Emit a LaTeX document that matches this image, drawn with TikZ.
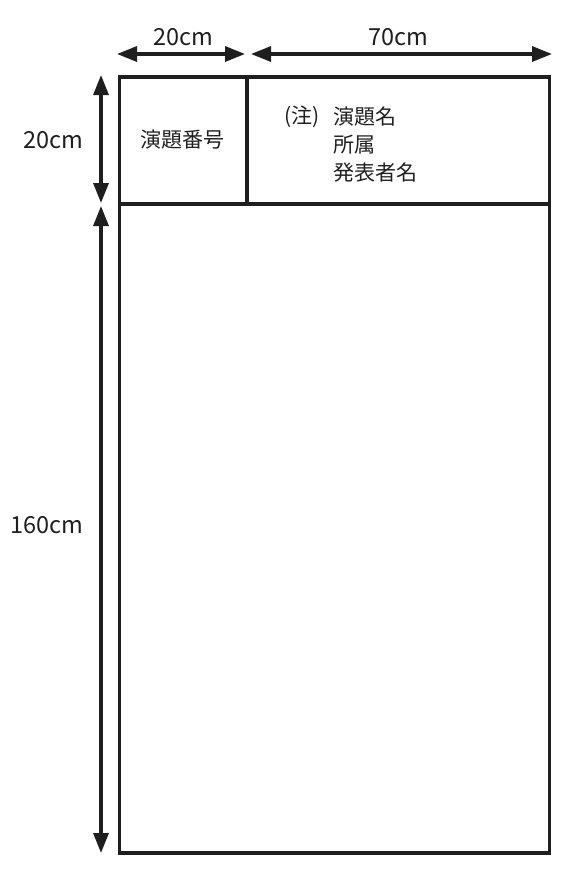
\documentclass[tikz,border=0pt]{standalone}
\usepackage{fontspec}
\setmainfont{Noto Sans CJK JP}
\usepackage{tikz}
\usetikzlibrary{arrows.meta,positioning}
\tikzset{
	dimarrow/.style={line width=3.2pt,color=black!88,{Triangle[length=20pt,width=15pt]}-{Triangle[length=20pt,width=15pt]}},
	frame/.style={line width=3.4pt,color=black!88},
	dimlabel/.style={font=\fontsize{23.5}{26}\selectfont,color=black!88,inner sep=0pt},
	jplabel/.style={font=\fontsize{21}{24}\selectfont,color=black!88,inner sep=0pt}
}

\begin{document}
\begin{tikzpicture}[x=1pt,y=-1pt]
		\useasboundingbox (0,0) rectangle (574,886);
		\coordinate (tl) at (119.5,77);
		\coordinate (tr) at (549.5,77);
		\coordinate (bl) at (119.5,853);
		\coordinate (br) at (549.5,853);
		\coordinate (hl) at (119.5,204);
		\coordinate (hr) at (549.5,204);
		\coordinate (dt) at (247,77);
		\coordinate (db) at (247,204);
		\draw[frame] (tl) rectangle (br);
		\draw[frame] (hl)--(hr);
		\draw[frame] (dt)--(db);
		\coordinate (ha) at (117,54);
		\coordinate (hb) at (245,54);
		\coordinate (hc) at (251,54);
		\coordinate (hd) at (552,54);
		\draw[dimarrow] (ha)--(hb);
		\draw[dimarrow] (hc)--(hd);
		\coordinate (va) at (101,75);
		\coordinate (vb) at (101,203);
		\coordinate (vc) at (101,206);
		\coordinate (vd) at (101,853);
		\draw[dimarrow] (va)--(vb);
		\draw[dimarrow] (vc)--(vd);
		\node[dimlabel] (w20) at (183,37) {20cm};
		\node[dimlabel] (w70) at (398,37) {70cm};
		\node[dimlabel] (h20) at (53,140) {20cm};
		\node[dimlabel] (h160) at (47,525) {160cm};
		\node[jplabel] (num) at (182,140) {演題番号};
		\node[jplabel,anchor=west] (note) at (284,117) {(注)};
		\node[jplabel,anchor=west] (title) at (333,117) {演題名};
		\node[jplabel,anchor=west] (affil) at (333,145) {所属};
		\node[jplabel,anchor=west] (auth) at (333,173) {発表者名};
	\end{tikzpicture}
\end{document}
